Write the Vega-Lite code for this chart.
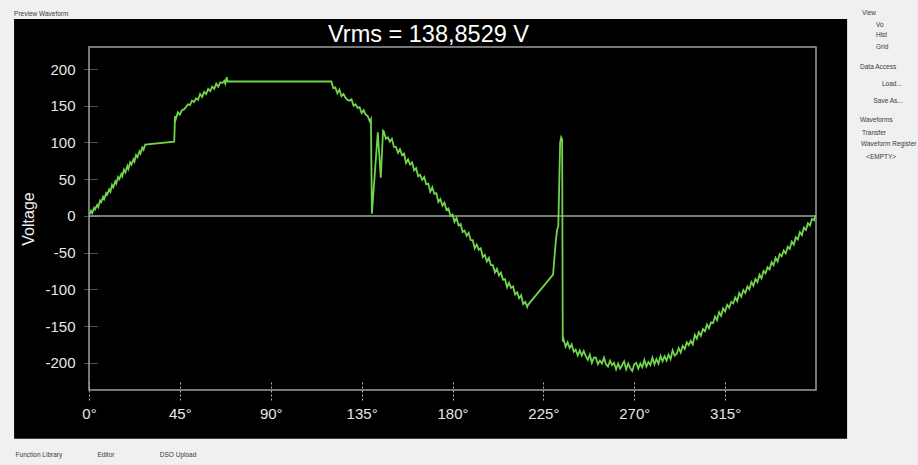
{
  "$schema": "https://vega.github.io/schema/vega-lite/v6.json",
  "width": 727,
  "height": 343,
  "autosize": {"type": "none"},
  "padding": {"left": 89, "top": 47, "right": 102, "bottom": 75},
  "background": "#f0f0f0",
  "config": {"view": {"stroke": null}, "font": "Liberation Sans"},
  "title": {"text": "Vrms = 138,8529 V", "color": "#ffffff", "fontSize": 23.5, "fontWeight": "normal", "font": "Liberation Sans", "dx": -24, "offset": -36, "zindex": 1},
  "datasets": {
    "wave": [
      {"a":0.3,"v":2},{"a":1,"v":7},{"a":1.6,"v":4},{"a":2.5,"v":11},{"a":3,"v":9},{"a":4,"v":15},{"a":4.6,"v":12},{"a":5.5,"v":21},{"a":6,"v":19},{"a":7,"v":26},{"a":7.5,"v":23},{"a":8.5,"v":31},{"a":9,"v":29},{"a":10,"v":36},{"a":10.6,"v":33},{"a":11.4,"v":42},{"a":12,"v":39},{"a":13,"v":47},{"a":13.5,"v":44},{"a":14.4,"v":53},{"a":15,"v":50},{"a":16,"v":57},{"a":16.5,"v":54},{"a":17.3,"v":63},{"a":18,"v":59},{"a":19,"v":68},{"a":19.5,"v":64},{"a":20.4,"v":73},{"a":21,"v":70},{"a":22,"v":77},{"a":22.5,"v":74},{"a":23.3,"v":83},{"a":24,"v":80},{"a":25,"v":88},{"a":25.5,"v":85},{"a":26.4,"v":93},{"a":27,"v":90},{"a":27.8,"v":97},
      {"a":42.2,"v":101},{"a":42.6,"v":136},{"a":43,"v":132},{"a":44,"v":141},{"a":45,"v":138},{"a":46,"v":144},{"a":47,"v":145},{"a":48,"v":148},{"a":49,"v":152},{"a":50,"v":151},{"a":51,"v":157},{"a":52,"v":155},{"a":53,"v":160},{"a":54,"v":158},{"a":55,"v":166},{"a":56,"v":162},{"a":57,"v":169},{"a":58,"v":166},{"a":59,"v":173},{"a":60,"v":170},{"a":61,"v":176},{"a":62,"v":173},{"a":63,"v":180},{"a":64,"v":176},{"a":65,"v":182},{"a":66,"v":181},{"a":67,"v":184},{"a":67.5,"v":180},{"a":68.2,"v":189},{"a":68.6,"v":183},
      {"a":120,"v":183},{"a":121,"v":174},{"a":122,"v":175},{"a":123,"v":167},{"a":124,"v":172},{"a":125,"v":163},{"a":126,"v":166},{"a":127,"v":161},{"a":128,"v":158},{"a":129,"v":157},{"a":130,"v":159},{"a":131,"v":150},{"a":132,"v":152},{"a":133,"v":147},{"a":134,"v":148},{"a":135,"v":140},{"a":136,"v":144},{"a":137,"v":138},{"a":138,"v":136},{"a":139,"v":129},{"a":139.6,"v":132},
      {"a":140.1,"v":3},{"a":143,"v":114},{"a":144.5,"v":52},{"a":145.6,"v":116},
      {"a":146,"v":115},{"a":147,"v":105},{"a":148,"v":107},{"a":149,"v":101},{"a":150,"v":105},{"a":151,"v":94},{"a":152,"v":94},{"a":153,"v":86},{"a":154,"v":91},{"a":155,"v":83},{"a":156,"v":85},{"a":157,"v":72},{"a":158,"v":77},{"a":159,"v":70},{"a":160,"v":73},{"a":161,"v":62},{"a":162,"v":65},{"a":163,"v":54},{"a":164,"v":56},{"a":165,"v":49},{"a":166,"v":53},{"a":167,"v":43},{"a":168,"v":44},{"a":169,"v":33},{"a":170,"v":39},{"a":171,"v":30},{"a":172,"v":31},{"a":173,"v":19},{"a":174,"v":23},{"a":175,"v":14},{"a":176,"v":18},{"a":177,"v":8},{"a":178,"v":10},{"a":179,"v":0},{"a":180,"v":2},
      {"a":181,"v":-8},{"a":182,"v":-3},{"a":183,"v":-13},{"a":184,"v":-11},{"a":185,"v":-22},{"a":186,"v":-20},{"a":187,"v":-27},{"a":188,"v":-23},{"a":189,"v":-33},{"a":190,"v":-33},{"a":191,"v":-44},{"a":192,"v":-39},{"a":193,"v":-46},{"a":194,"v":-44},{"a":195,"v":-56},{"a":196,"v":-53},{"a":197,"v":-62},{"a":198,"v":-57},{"a":199,"v":-67},{"a":200,"v":-67},{"a":201,"v":-77},{"a":202,"v":-72},{"a":203,"v":-81},{"a":204,"v":-77},{"a":205,"v":-87},{"a":206,"v":-86},{"a":207,"v":-97},{"a":208,"v":-91},{"a":209,"v":-98},{"a":210,"v":-96},{"a":211,"v":-107},{"a":212,"v":-104},{"a":213,"v":-112},{"a":214,"v":-108},{"a":215,"v":-120},{"a":216,"v":-117},{"a":217,"v":-124},{"a":217.4,"v":-121},
      {"a":229.8,"v":-80},{"a":231.2,"v":-33},{"a":231.8,"v":-19},{"a":232.4,"v":-14},{"a":233.3,"v":100},{"a":233.8,"v":107},{"a":234.3,"v":104},{"a":234.6,"v":-171},
      {"a":235,"v":-168},{"a":236,"v":-178},{"a":237,"v":-172},{"a":238,"v":-180},{"a":239,"v":-175},{"a":240,"v":-185},{"a":241,"v":-182},{"a":242,"v":-190},{"a":243,"v":-183},{"a":244,"v":-190},{"a":245,"v":-184},{"a":246,"v":-191},{"a":247,"v":-196},{"a":248,"v":-189},{"a":249,"v":-200},{"a":250,"v":-193},{"a":251,"v":-193},{"a":252,"v":-202},{"a":253,"v":-197},{"a":254,"v":-201},{"a":255,"v":-193},{"a":256,"v":-202},{"a":257,"v":-205},{"a":258,"v":-197},{"a":259,"v":-203},{"a":260,"v":-200},{"a":261,"v":-209},{"a":262,"v":-201},{"a":263,"v":-208},{"a":264,"v":-203},{"a":265,"v":-198},{"a":266,"v":-209},{"a":267,"v":-201},{"a":268,"v":-207},{"a":269,"v":-211},{"a":270,"v":-202},
      {"a":271,"v":-200},{"a":272,"v":-208},{"a":273,"v":-201},{"a":274,"v":-206},{"a":275,"v":-196},{"a":276,"v":-205},{"a":277,"v":-199},{"a":278,"v":-203},{"a":279,"v":-193},{"a":280,"v":-202},{"a":281,"v":-195},{"a":282,"v":-201},{"a":283,"v":-191},{"a":284,"v":-198},{"a":285,"v":-191},{"a":286,"v":-197},{"a":287,"v":-189},{"a":288,"v":-195},{"a":289,"v":-183},{"a":290,"v":-190},{"a":291,"v":-188},{"a":292,"v":-180},{"a":293,"v":-186},{"a":294,"v":-177},{"a":295,"v":-181},{"a":296,"v":-172},{"a":297,"v":-176},{"a":298,"v":-170},{"a":299,"v":-175},{"a":300,"v":-162},
      {"a":301,"v":-167},{"a":302,"v":-158},{"a":303,"v":-163},{"a":304,"v":-154},{"a":305,"v":-157},{"a":306,"v":-148},{"a":307,"v":-153},{"a":308,"v":-145},{"a":309,"v":-146},{"a":310,"v":-137},{"a":311,"v":-142},{"a":312,"v":-131},{"a":313,"v":-136},{"a":314,"v":-126},{"a":315,"v":-130},{"a":316,"v":-121},{"a":317,"v":-125},{"a":318,"v":-117},{"a":319,"v":-119},{"a":320,"v":-111},{"a":321,"v":-116},{"a":322,"v":-105},{"a":323,"v":-110},{"a":324,"v":-101},{"a":325,"v":-105},{"a":326,"v":-96},{"a":327,"v":-100},{"a":328,"v":-90},{"a":329,"v":-95},{"a":330,"v":-86},
      {"a":331,"v":-90},{"a":332,"v":-80},{"a":333,"v":-85},{"a":334,"v":-75},{"a":335,"v":-78},{"a":336,"v":-70},{"a":337,"v":-73},{"a":338,"v":-63},{"a":339,"v":-67},{"a":340,"v":-57},{"a":341,"v":-62},{"a":342,"v":-52},{"a":343,"v":-55},{"a":344,"v":-47},{"a":345,"v":-51},{"a":346,"v":-42},{"a":347,"v":-45},{"a":348,"v":-35},{"a":349,"v":-39},{"a":350,"v":-29},{"a":351,"v":-32},{"a":352,"v":-22},{"a":353,"v":-26},{"a":354,"v":-16},{"a":355,"v":-19},{"a":356,"v":-10},{"a":357,"v":-13},{"a":358,"v":-4},{"a":359,"v":-6},{"a":359.8,"v":1}
    ],
    "leftlabels": [
      {"t":"Preview Waveform","a":-37.1,"v":275},
      {"t":"View","a":382.8,"v":276},
      {"t":"Vo","a":389.7,"v":260},
      {"t":"Hist","a":389.7,"v":246},
      {"t":"Grid","a":389.7,"v":230},
      {"t":"Data Access","a":381.8,"v":203},
      {"t":"Waveforms","a":381.8,"v":131},
      {"t":"Waveform Register","a":382.3,"v":98},
      {"t":"<EMPTY>","a":384.8,"v":80}
    ],
    "centerlabels": [
      {"t":"Function Library","a":-24.8,"v":-325},
      {"t":"Editor","a":8.4,"v":-325},
      {"t":"DSO Upload","a":44.1,"v":-325},
      {"t":"Load...","a":397.6,"v":180},
      {"t":"Save As...","a":395.7,"v":157},
      {"t":"Transfer","a":388.7,"v":113}
    ]
  },
  "layer": [
    {
      "data": {"values": [{}]},
      "mark": {"type": "rect", "fill": "#000000"},
      "encoding": {
        "x": {"datum": -37.1, "type": "quantitative", "scale": {"domain": [0, 360], "nice": false, "zero": false}},
        "x2": {"datum": 375.4},
        "y": {"datum": 268, "type": "quantitative", "scale": {"domain": [-237, 230], "nice": false, "zero": false}},
        "y2": {"datum": -303.4}
      }
    },
    {
      "data": {"values": [{}]},
      "mark": {"type": "rect", "fillOpacity": 0, "stroke": "#9e9e9e", "strokeWidth": 1.5},
      "encoding": {
        "x": {"datum": 0, "type": "quantitative"},
        "x2": {"datum": 360},
        "y": {"datum": -237, "type": "quantitative"},
        "y2": {"datum": 230}
      }
    },
    {
      "data": {"values": [{}]},
      "mark": {"type": "rule", "color": "#a4a4a4", "strokeWidth": 1.5},
      "encoding": {
        "x": {"datum": 0, "type": "quantitative"},
        "x2": {"datum": 360},
        "y": {"datum": 0, "type": "quantitative"}
      }
    },
    {
      "data": {"name": "leftlabels"},
      "mark": {"type": "text", "align": "left", "baseline": "middle", "fontSize": 6.5, "color": "#3a3a3a", "font": "Liberation Sans"},
      "encoding": {
        "x": {"field": "a", "type": "quantitative"},
        "y": {"field": "v", "type": "quantitative"},
        "text": {"field": "t"}
      }
    },
    {
      "data": {"name": "centerlabels"},
      "mark": {"type": "text", "align": "center", "baseline": "middle", "fontSize": 6.5, "color": "#3a3a3a", "font": "Liberation Sans"},
      "encoding": {
        "x": {"field": "a", "type": "quantitative"},
        "y": {"field": "v", "type": "quantitative"},
        "text": {"field": "t"}
      }
    },
    {
      "data": {"name": "wave"},
      "mark": {"type": "line", "color": "#70d44c", "strokeWidth": 1.8},
      "encoding": {
        "x": {
          "field": "a", "type": "quantitative",
          "scale": {"domain": [0, 360], "nice": false, "zero": false},
          "axis": {"values": [0, 45, 90, 135, 180, 225, 270, 315], "labelExpr": "datum.value + '°'", "labelFlush": false, "title": null, "grid": false, "domain": false, "offset": -8, "tickSize": 20, "tickDash": [2, 2], "tickColor": "#b0b0b0", "tickWidth": 1, "labelColor": "#e6e6e6", "labelFontSize": 15, "labelFont": "Liberation Sans", "labelPadding": 4, "zindex": 1}
        },
        "y": {
          "field": "v", "type": "quantitative",
          "scale": {"domain": [-237, 230], "nice": false, "zero": false},
          "axis": {"values": [-200, -150, -100, -50, 0, 50, 100, 150, 200], "labelExpr": "datum.value < 0 ? '-' + abs(datum.value) : '' + datum.value", "labelFlush": false, "title": "Voltage", "titleColor": "#f0f0f0", "titleFontSize": 16, "titleFontWeight": "normal", "titleFont": "Liberation Sans", "titlePadding": 8, "grid": false, "domain": false, "offset": -8, "tickSize": 14, "tickDash": [1, 1], "tickColor": "#a0a0a0", "tickWidth": 1, "labelColor": "#e6e6e6", "labelFontSize": 15, "labelFont": "Liberation Sans", "labelPadding": 8, "zindex": 1}
        }
      }
    }
  ]
}
